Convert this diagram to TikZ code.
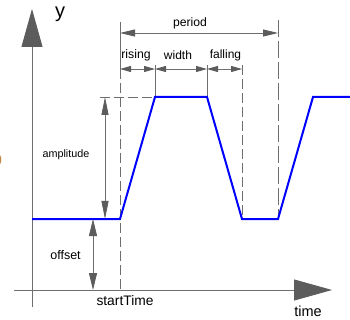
\documentclass[tikz,border=0pt]{standalone}
\usepackage{fontspec}
\setmainfont{Liberation Sans}
\usetikzlibrary{arrows.meta}
\definecolor{axgray}{HTML}{6E6E6E}
\definecolor{tipgray}{HTML}{5C5C5C}
\definecolor{sigblue}{HTML}{0000FF}
\tikzset{
  axisline/.style={draw=axgray, line width=0.9pt},
  dimline/.style={draw=axgray, line width=0.8pt},
  guide/.style={draw=axgray, line width=0.8pt, dash pattern=on 10pt off 4pt},
  signal/.style={draw=sigblue, line width=2pt, line join=miter},
  lbl/.style={inner sep=0pt, text=black},
  bigtip/.style={arrows={-Triangle[length=38pt,width=21pt,color=tipgray]}},
  dimarr/.style 2 args={arrows={Triangle[length=#1,width=#2,color=tipgray]-Triangle[length=#1,width=#2,color=tipgray]}},
}
\begin{document}
\begin{tikzpicture}[x=1pt,y=-1pt]
\useasboundingbox (0,0) rectangle (350,320);
\fill[white] (0,0) rectangle (350,320);
% named coordinates
\coordinate (yb) at (32,307);
\coordinate (yt) at (32,9);
\coordinate (xl) at (14,290);
\coordinate (xr) at (332,290);
\coordinate (s0) at (32,219);
\coordinate (s1) at (120,219);
\coordinate (s2) at (155,97);
\coordinate (s3) at (207,97);
\coordinate (s4) at (242,219);
\coordinate (s5) at (278,219);
\coordinate (s6) at (313,97);
\coordinate (s7) at (350,97);
% axes
\draw[axisline, bigtip] (yb) -- (yt);
\draw[axisline, bigtip] (xl) -- (xr);
% guide lines
\coordinate (g1t) at (120,22);
\coordinate (g1m) at (120,69);
\coordinate (g1b) at (120,290);
\draw[dimline] (g1t) -- (g1m);
\draw[guide] (g1m) -- (g1b);
\coordinate (g2t) at (155,65);
\draw[dimline] (g2t) -- (s2);
\coordinate (g3t) at (207,65);
\draw[dimline] (g3t) -- (s3);
\coordinate (g4t) at (242,65);
\draw[guide] (g4t) -- (s4);
\coordinate (g5t) at (278,20);
\draw[guide, dash pattern=on 17pt off 4pt] (g5t) -- (s5);
\coordinate (hl) at (100,97);
\draw[guide] (hl) -- (s2);
% signal
\draw[signal] (s0) -- (s1) -- (s2) -- (s3) -- (s4) -- (s5) -- (s6) -- (s7);
% dimension arrows
\coordinate (pa) at (120,33);
\coordinate (pb) at (278,33);
\draw[dimline, dimarr={15pt}{7pt}] (pa) -- (pb);
\coordinate (r1) at (120,69);
\coordinate (r2) at (155,69);
\coordinate (r3) at (207,69);
\coordinate (r4) at (242,69);
\draw[dimline, dimarr={11pt}{6pt}] (r1) -- (r2);
\draw[dimline, dimarr={11pt}{6pt}] (r2) -- (r3);
\draw[dimline, dimarr={11pt}{6pt}] (r3) -- (r4);
\coordinate (a1) at (105,97);
\coordinate (a2) at (105,219);
\draw[dimline, dimarr={18pt}{7pt}] (a1) -- (a2);
\coordinate (o1) at (93,219);
\coordinate (o2) at (93,290);
\draw[dimline, dimarr={17pt}{8pt}] (o1) -- (o2);
% labels
\node[lbl, font=\fontsize{20}{20}\selectfont] (ylab) at (60,14) {y};
\node[lbl, font=\fontsize{14.5}{14.5}\selectfont] (tlab) at (308,311) {time};
\node[lbl, font=\fontsize{12.2}{12.2}\selectfont] (plab) at (190,23) {period};
\node[lbl, font=\fontsize{12.3}{12.3}\selectfont] (rlab) at (136,55) {rising};
\node[lbl, font=\fontsize{12}{12}\selectfont] (wlab) at (178,55) {width};
\node[lbl, font=\fontsize{12}{12}\selectfont] (flab) at (225.5,55) {falling};
\node[lbl, font=\fontsize{10.8}{10.8}\selectfont] (alab) at (66,155) {amplitude};
\node[lbl, font=\fontsize{12.5}{12.5}\selectfont] (olab) at (65.5,255) {offset};
\node[lbl, font=\fontsize{13.8}{13.8}\selectfont] (stlab) at (125,301) {startTime};
\node[lbl, anchor=east, text={rgb,255:red,190;green,130;blue,60}, font=\fontsize{13}{13}\selectfont] (edge) at (2.5,160) {)};
\end{tikzpicture}
\end{document}
